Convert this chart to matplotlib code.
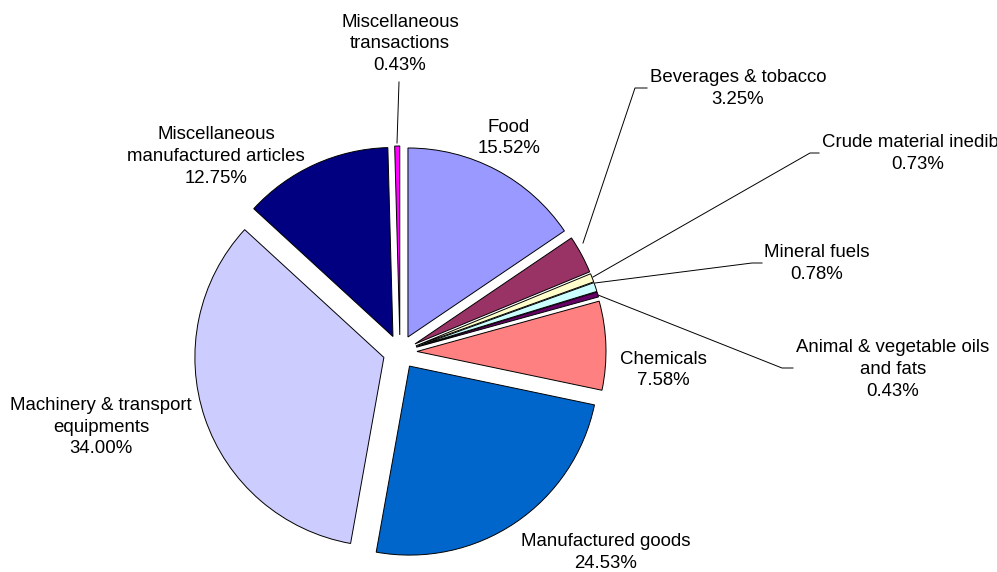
import matplotlib
matplotlib.use("Agg")
import matplotlib.pyplot as plt

plt.rcParams['font.family'] = ['Liberation Sans', 'DejaVu Sans']

# export shares by commodity group, clockwise from 12 o'clock
names = ["Food", "Beverages & tobacco", "Crude material inedible", "Mineral fuels",
         "Animal & vegetable oils\nand fats", "Chemicals", "Manufactured goods",
         "Machinery & transport\nequipments", "Miscellaneous\nmanufactured articles",
         "Miscellaneous\ntransactions"]
shares = [15.52, 3.25, 0.73, 0.78, 0.43, 7.58, 24.53, 34.00, 12.75, 0.43]
colors = ["#9999FF", "#993366", "#FFFFCC", "#CCFFFF", "#660066",
          "#FF8080", "#0066CC", "#CCCCFF", "#000080", "#FF00FF"]

W, H = 997, 572
# label block centres (pixels from top-left)
label_xy = [(509, 138), (738, 88.5), (918, 153.5), (817, 263.5), (893, 369.5),
            (663, 370), (606, 552.5), (101, 427), (216, 156.5), (400, 44)]
# leader lines for labels set away from their slices
leaders = {
    1: [(647, 88), (635, 88), (583, 243)],
    2: [(819, 153), (810, 153), (593, 277)],
    3: [(762, 263), (752, 263), (595, 283)],
    4: [(793, 368), (782, 368), (598, 295)],
    9: [(399, 82), (397, 143)],
}

fig = plt.figure(figsize=(W / 100, H / 100), dpi=100)
ax = fig.add_axes([0, 0, 1, 1])

ax.pie(shares, colors=colors, startangle=90, counterclock=False,
       center=(400, H - 352), radius=189, explode=[17] * len(shares),
       wedgeprops=dict(edgecolor="black", linewidth=0.7))

for i, (name, val) in enumerate(zip(names, shares)):
    x, y = label_xy[i]
    ax.text(x, H - y, f"{name}\n{val:.2f}%", ha="center", va="center",
            multialignment="center", fontsize=13.4, linespacing=1.38)

for pts in leaders.values():
    ax.plot([p[0] for p in pts], [H - p[1] for p in pts], color="black", lw=0.7)

ax.set_xlim(0, W)
ax.set_ylim(0, H)
ax.set_aspect("equal")
ax.axis("off")

fig.savefig("out.png", dpi=100)
